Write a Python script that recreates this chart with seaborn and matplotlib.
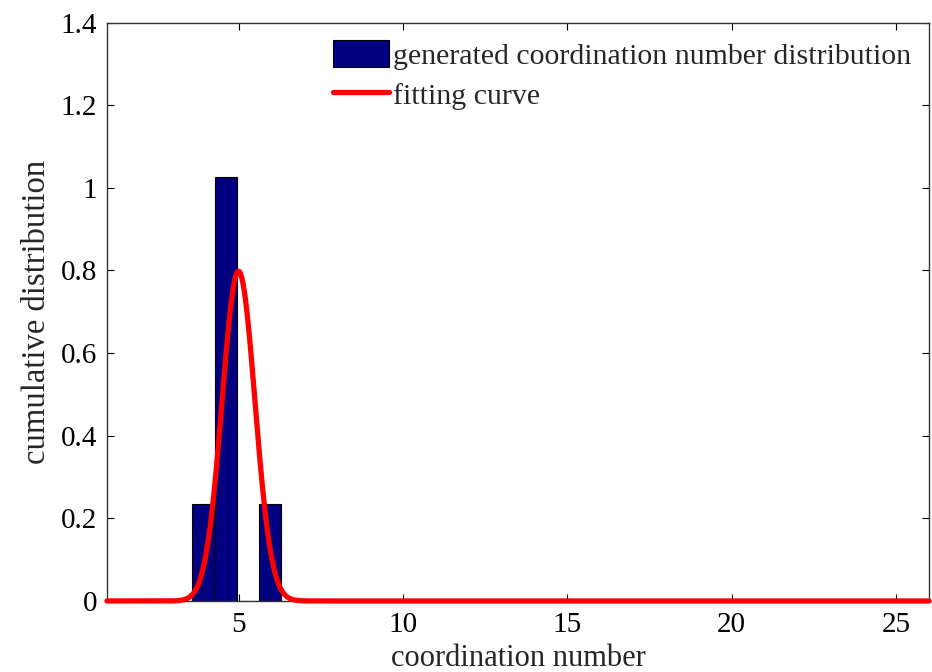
import numpy as np
import pandas as pd
import seaborn as sns
import matplotlib
matplotlib.use("Agg")
import matplotlib.pyplot as plt
from matplotlib.patches import Patch
from matplotlib.lines import Line2D

# Histogram of generated coordination numbers (bin edges and bar heights)
bin_edges = [3.60, 4.27, 4.95, 5.62, 6.30]
bar_heights = [0.235, 1.026, 0.0, 0.235]

# Normal fit to the distribution
fit_mean = 5.0
fit_sigma = 0.5
x_range = (1, 26)

x_ticks = [5, 10, 15, 20, 25]
y_ticks = [0, 0.2, 0.4, 0.6, 0.8, 1.0, 1.2, 1.4]
y_tick_labels = ["0", "0.2", "0.4", "0.6", "0.8", "1", "1.2", "1.4"]

sns.set_theme(style="ticks")
plt.rcParams["font.family"] = ["Liberation Serif", "DejaVu Serif"]
plt.rcParams["mathtext.fontset"] = "stix"

fig = plt.figure(figsize=(9.32, 6.72), dpi=100)
ax = fig.add_axes([0.1148, 0.1057, 0.9968 - 0.1148, 0.9665 - 0.1057])

centers = [(a + b) / 2 for a, b in zip(bin_edges[:-1], bin_edges[1:])]
hist_df = pd.DataFrame({"cn": centers, "w": bar_heights})
sns.histplot(data=hist_df, x="cn", weights="w", bins=bin_edges, ax=ax,
             color="#000080", edgecolor="black", linewidth=0.8, alpha=1.0,
             zorder=2)

xs = np.linspace(x_range[0], x_range[1], 2000)
pdf = np.exp(-0.5 * ((xs - fit_mean) / fit_sigma) ** 2) / (fit_sigma * np.sqrt(2 * np.pi))
fit_df = pd.DataFrame({"x": xs, "y": pdf})
sns.lineplot(data=fit_df, x="x", y="y", ax=ax, color="#ff0000", linewidth=3.8,
             zorder=3, clip_on=False)

ax.set_xlim(*x_range)
ax.set_ylim(0, 1.4)
ax.set_xticks(x_ticks)
ax.set_xticklabels([str(t) for t in x_ticks])
ax.set_yticks(y_ticks)
ax.set_yticklabels(y_tick_labels)
ax.tick_params(direction="in", length=5, width=0.8, top=True, right=True,
               labelsize=21, colors="black")
ax.tick_params(axis="x", pad=8)
ax.tick_params(axis="y", pad=7)
for s in ax.spines.values():
    s.set_visible(True)
    s.set_color("#333333")
    s.set_linewidth(1.0)

ax.set_xlabel("coordination number", fontsize=22, labelpad=4)
ax.set_ylabel("cumulative distribution", fontsize=23.5, labelpad=6)

handles = [Patch(facecolor="#000080", edgecolor="black", linewidth=0.8),
           Line2D([0], [0], color="#ff0000", linewidth=3.8)]
labels = ["generated coordination number distribution", "fitting curve"]
ax.legend(handles, labels, loc="upper right", frameon=False, fontsize=21.5,
          handlelength=1.87, handleheight=0.97, handletextpad=0.13,
          labelspacing=0.35, borderaxespad=0.3, borderpad=0.3)

fig.savefig("out.png", dpi=100)
